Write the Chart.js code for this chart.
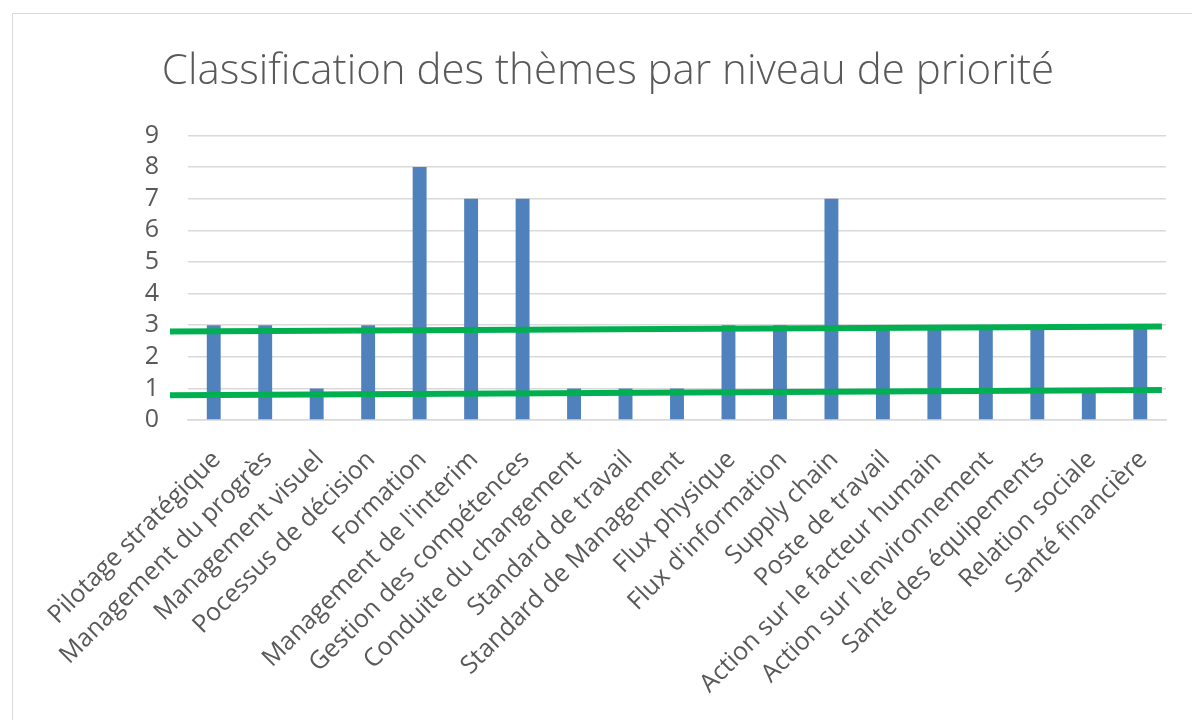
<!DOCTYPE html>
<html lang="fr">
<head>
  <meta charset="UTF-8" />
  <title>Classification des thèmes</title>
  <script src="https://cdn.jsdelivr.net/npm/chart.js"></script>
  <style>
    html, body {
      margin: 0;
      padding: 0;
      background: #ffffff;
      overflow: hidden;
    }
    .frame {
      position: absolute;
      left: 12px;
      top: 13px;
      width: 1200px;
      height: 720px;
      border-left: 1px solid #d9d9d9;
      border-top: 1px solid #d9d9d9;
    }
    #chart {
      display: block;
    }
  </style>
</head>
<body>

<div class="frame">
  <canvas id="chart" width="1190" height="706"></canvas>
</div>

<script>
  // Themes and their priority score
  const themes = [
    "Pilotage stratégique",
    "Management du progrès",
    "Management visuel",
    "Pocessus de décision",
    "Formation",
    "Management de l'interim",
    "Gestion des compétences",
    "Conduite du changement",
    "Standard de travail",
    "Standard de Management",
    "Flux physique",
    "Flux d'information",
    "Supply chain",
    "Poste de travail",
    "Action sur le facteur humain",
    "Action sur l'environnement",
    "Santé des équipements",
    "Relation sociale",
    "Santé financière"
  ];
  const priorities = [3, 3, 1, 3, 8, 7, 7, 1, 1, 1, 3, 3, 7, 3, 3, 3, 3, 1, 3];

  const yTicks = [0, 1, 2, 3, 4, 5, 6, 7, 8, 9];

  // Hand-drawn threshold lines: start / end in category index, and score at each end
  const thresholdX = [-0.85, 18.42];
  const upperThreshold = [2.8, 2.96];
  const lowerThreshold = [0.78, 0.95];

  const grey = '#595959';
  const gridGrey = '#d9d9d9';
  const green = '#00B050';

  // draws the two green lines on top of the bars
  const thresholdLines = {
    id: 'thresholdLines',
    afterDatasetsDraw(chart) {
      const { ctx, scales: { x, y } } = chart;
      ctx.save();
      ctx.strokeStyle = green;
      ctx.lineWidth = 6;
      ctx.lineCap = 'butt';
      [upperThreshold, lowerThreshold].forEach(ys => {
        ctx.beginPath();
        ctx.moveTo(x.getPixelForValue(thresholdX[0]), y.getPixelForValue(ys[0]));
        ctx.lineTo(x.getPixelForValue(thresholdX[1]), y.getPixelForValue(ys[1]));
        ctx.stroke();
      });
      ctx.restore();
    }
  };

  const ctx = document.getElementById('chart').getContext('2d');

  new Chart(ctx, {
    type: 'bar',
    data: {
      labels: themes,
      datasets: [
        {
          label: 'Priorité',
          data: priorities,
          backgroundColor: '#4F81BD',
          categoryPercentage: 1,
          barPercentage: 0.27
        }
      ]
    },
    plugins: [thresholdLines],
    options: {
      responsive: false,
      animation: false,
      layout: {
        padding: { left: 0, right: 0, top: 0, bottom: 0 }
      },
      plugins: {
        legend: { display: false },
        tooltip: { enabled: false },
        title: {
          display: true,
          text: 'Classification des thèmes par niveau de priorité',
          color: grey,
          font: { family: "'Open Sans', sans-serif", size: 42, weight: 300 },
          padding: { top: 33, bottom: 38 }
        }
      },
      scales: {
        x: {
          grid: { display: false },
          border: { display: true, color: gridGrey, width: 1.5 },
          ticks: {
            color: grey,
            font: { family: "'Open Sans', sans-serif", size: 25 },
            minRotation: 45,
            maxRotation: 45,
            autoSkip: false,
            padding: 17,
            labelOffset: 3
          },
          afterFit: scale => { scale.height = 300; }
        },
        y: {
          min: yTicks[0],
          max: yTicks[yTicks.length - 1],
          border: { display: false },
          grid: { color: gridGrey, lineWidth: 1.5, drawTicks: false },
          afterBuildTicks: scale => {
            scale.ticks = yTicks.map(v => ({ value: v }));
          },
          ticks: {
            color: grey,
            font: { family: "'Open Sans', sans-serif", size: 25 },
            padding: 29,
            autoSkip: false
          },
          afterFit: scale => { scale.width = 175; }
        },
        // empty right margin, keeps the plot narrower than the title row
        margin: {
          type: 'linear',
          position: 'right',
          grid: { display: false },
          border: { display: false },
          ticks: { display: false },
          afterFit: scale => { scale.width = 37; }
        }
      }
    }
  });
</script>

</body>
</html>
